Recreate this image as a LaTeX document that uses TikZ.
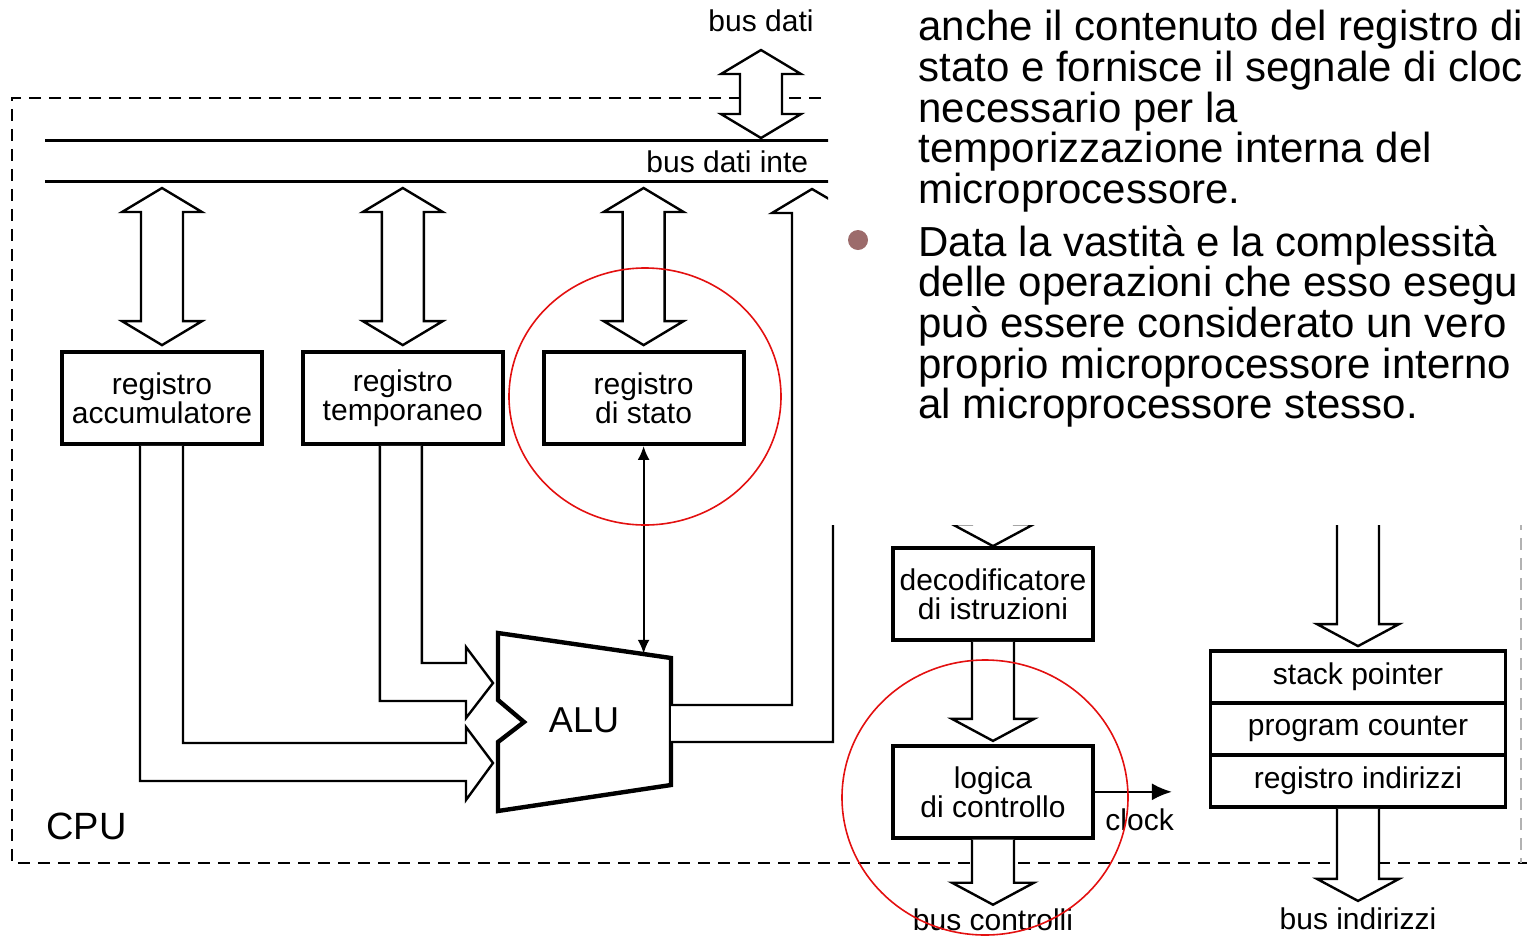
\documentclass[tikz,border=0pt]{standalone}
\usepackage{fontspec}
\setmainfont{Liberation Sans}
\usepackage{tikz}
\usetikzlibrary{
  arrows.meta,
  positioning,
  calc
}
\definecolor{slBullet}{HTML}{9C6B6B}
\definecolor{slRing}{HTML}{E31010}
\tikzset{
  reg/.style={
    draw, line width=1.9pt, minimum width=100pt, minimum height=46pt,
    inner sep=0pt, align=center, font=\fontsize{15}{14.5}\selectfont
  },
  regrow/.style={reg, minimum width=147.5pt, minimum height=26pt},
  hollow/.style={draw, fill=white, line width=1.2pt, line join=miter},
  wire/.style={line width=1.1pt},
  busline/.style={line width=1.5pt},
  cpubox/.style={line width=1.4pt, dash pattern=on 6pt off 4pt},
  lbl/.style={font=\fontsize{15}{15}\selectfont, inner sep=0pt},
  redring/.style={draw=slRing, line width=0.8pt},
  slidetext/.style={font=\fontsize{21}{20.3}\selectfont, align=left, anchor=north west, inner sep=0pt}
}
% wide hollow arrows: #1 = top tip, #2 = bottom tip / #1 = tail, #2 = tip
\newcommand{\dblarrow}[2]{%
  \draw[hollow] #1 -- ($#1+(40,24)$) -- ($#1+(21,24)$) -- ($#2+(21,-24)$)
    -- ($#2+(40,-24)$) -- #2 -- ($#2+(-40,-24)$) -- ($#2+(-21,-24)$)
    -- ($#1+(-21,24)$) -- ($#1+(-40,24)$) -- cycle;}
\newcommand{\sglarrow}[2]{%
  \draw[hollow] ($#1+(-21,0)$) -- ($#2+(-21,-22)$) -- ($#2+(-41,-22)$) -- #2
    -- ($#2+(41,-22)$) -- ($#2+(21,-22)$) -- ($#1+(21,0)$);}

\begin{document}
\begin{tikzpicture}[x=0.5pt, y=-0.5pt, node distance=18.5pt]
  \useasboundingbox (0,0) rectangle (1527,938);
  \begin{scope}
    \clip (0,0) -- (828,0) -- (828,525) -- (1527,525) -- (1527,938) -- (0,938) -- cycle;
    \draw[cpubox] (1521,98) -- (12,98) -- (12,863) -- (1527,863);
    \draw[cpubox, black!30, line width=0.8pt] (1521,98) -- (1521,863);
    \draw[busline] (45,140) -- (1045,140);
    \draw[busline] (45,181) -- (1045,181);
    \node[lbl, anchor=west] (ibus) at (646,162) {bus dati inte};
    \node[lbl] (busdati) at (761,21) {bus dati};
    \node[lbl, anchor=west, font=\fontsize{19}{19}\selectfont] (cpu) at (46,826) {CPU};

    \node[reg] (acc) at (162,398) {registro\\accumulatore};
    \node[reg, right=of acc] (temp) {registro\\temporaneo};
    \node[reg, right=of temp] (stato) {registro\\di stato};
    \node[reg] (decod) at (993,594) {decodificatore\\di istruzioni};
    \node[reg, below=51pt of decod] (logica) {logica\\di controllo};
    \node[regrow] (sp) at (1358,677) {stack pointer};
    \node[regrow, below=-1.9pt of sp] (pc) {program counter};
    \node[regrow, below=-1.9pt of pc] (ri) {registro indirizzi};

    \draw[line width=2.2pt, line join=miter] (498,633) -- (671,658) -- (671,785) -- (498,811)
      -- (498,742) -- (524,722) -- (498,700) -- cycle;
    \path (498,633) -- (671,658) coordinate[pos=0.83] (alutop);
    \node[font=\fontsize{18}{18}\selectfont, inner sep=0pt] (alu) at (584,720) {ALU};

    \coordinate (bdT) at (761,50);
    \coordinate (bdB) at (761,138);
    \dblarrow{(bdT)}{(bdB)}
    \foreach \r in {acc,temp,stato}{
      \coordinate (\r-top) at (\r.north |- 0,188);
      \coordinate (\r-bot) at ($(\r.north)+(0,-5)$);
      \dblarrow{(\r-top)}{(\r-bot)}
    }

    \draw[hollow] ($(temp.south)+(19,0)$) |- (466,663) -- (466,647) -- (493,683) -- (466,718)
      -- (466,701) -| ($(temp.south)+(-23,0)$);
    \draw[hollow] ($(acc.south)+(21,0)$) |- (466,743) -- (466,727) -- (493,763) -- (466,800)
      -- (466,781) -| ($(acc.south)+(-22,0)$);
    \draw[hollow] (671,742) -- (833,742) -- (833,213) -- (853,213) -- (812,189) -- (772,213)
      -- (792,213) -- (792,705) -- (671,705);
    \draw[wire, {Latex[length=7pt,width=6pt]}-{Latex[length=7pt,width=6pt]}] (stato.south) -- (stato.south |- alutop);

    \coordinate (decIn) at (decod.north |- 0,300);
    \sglarrow{(decIn)}{(decod.north)}
    \sglarrow{(decod.south)}{($(logica.north)+(0,-3)$)}
    \coordinate (bc) at ($(logica.south)+(0,65)$);
    \sglarrow{(logica.south)}{(bc)}
    \node[lbl, below=2pt of bc] (buscontr) {bus controlli};

    \coordinate (spIn) at (sp.north |- 0,300);
    \sglarrow{(spIn)}{($(sp.north)+(0,-3)$)}
    \coordinate (bi) at ($(ri.south)+(0,92)$);
    \sglarrow{(ri.south)}{(bi)}
    \node[lbl, below=3pt of bi] (busind) {bus indirizzi};

    \draw[wire, -{Latex[length=10pt,width=8.5pt]}] (logica.east) -- ++(77,0) coordinate (clk);
    \node[lbl, anchor=west] (clock) at (1105,820) {clock};
  \end{scope}

  \draw[redring] (645,396.5) ellipse [x radius=68pt, y radius=64.25pt];
  \draw[redring] (985,797.5) ellipse [x radius=71.5pt, y radius=68.75pt];

  \node[slidetext] (par1) at (918,10) {anche il contenuto del registro di\\
    stato e fornisce il segnale di cloc\\necessario per la\\
    temporizzazione interna del\\microprocessore.};
  \fill[slBullet] (858,240) circle (5pt);
  \node[slidetext] (par2) at (918,225) {Data la vastità e la complessità\\
    delle operazioni che esso esegu\\può essere considerato un vero\\
    proprio microprocessore interno\\al microprocessore stesso.};
\end{tikzpicture}
\end{document}
